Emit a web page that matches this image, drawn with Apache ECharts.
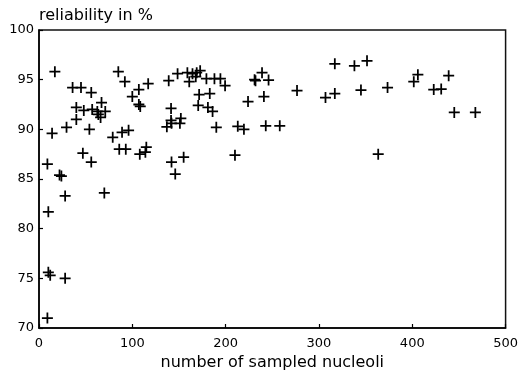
<!DOCTYPE html>
<html>
<head>
<meta charset="utf-8">
<script src="https://cdn.jsdelivr.net/npm/echarts@6/dist/echarts.min.js"></script>
<style>
html,body{margin:0;padding:0;background:#fff;}
#c{width:521px;height:379px;}
</style>
</head>
<body>
<div id="c"></div>
<script>
// number of sampled nucleoli
const sampledNucleoli = [9,10,12,28,10,28,70,9,14,17,22,24,29.5,36,45,40,40,48,56,57,54,47,56,62.5,67,66,71,63.6,79,85,92,89,96,86,93,100,107,107,108.5,117,108,114,115,139,148.5,141.5,137,141.5,142,152,151,142,146,155,159,161,164.5,169,172.7,168,179.4,171.6,170.6,183,181,186,190,188,194.4,199.4,210,213,219.6,224,231,232,239,246,241,243,258,276.5,307,317,317,338,351.5,345,363.5,373.5,401.6,406,423,431,439,445,467.6];
// reliability in %
const reliability = [71.0,75.6,75.3,75.0,81.7,83.3,83.6,86.5,89.6,95.8,85.4,85.3,90.2,94.2,94.2,91.0,92.2,91.9,93.7,92.0,90.0,87.6,86.7,91.8,92.7,91.2,91.8,91.5,89.2,95.8,94.8,89.7,89.9,88.0,88.0,93.3,94.0,92.5,92.3,94.6,87.5,87.7,88.2,94.9,95.6,92.1,90.25,90.9,90.6,91.1,90.6,86.7,85.5,87.2,95.7,94.8,95.6,95.7,95.9,95.3,95.1,93.5,92.4,93.6,92.2,91.8,90.2,95.1,95.1,94.4,87.4,90.3,90.0,92.8,95.0,94.9,95.7,94.96,93.3,90.35,90.35,93.9,93.2,93.6,96.6,96.4,96.9,93.95,87.5,94.2,94.8,95.5,94.0,94.05,95.4,91.7,91.7];
const xTicks = [0,100,200,300,400,500];
const yTicks = [70,75,80,85,90,95,100];

const points = sampledNucleoli.map((x,i)=>[x,reliability[i]]);
const font = 'DejaVu Sans';
const chart = echarts.init(document.getElementById('c'));
chart.setOption({
  animation:false,
  backgroundColor:'#fff',
  grid:{left:39,right:13,top:30,bottom:51,show:true,borderColor:'#111',borderWidth:1.5},
  xAxis:{
    type:'value',min:xTicks[0],max:xTicks[xTicks.length-1],interval:100,
    name:'number of sampled nucleoli',nameLocation:'middle',nameGap:27,
    nameTextStyle:{fontFamily:font,fontSize:16,color:'#000'},
    axisLine:{show:true,lineStyle:{color:'#000',width:1.5}},
    axisTick:{show:true,inside:true,length:4,lineStyle:{color:'#000',width:1.2}},
    axisLabel:{fontFamily:font,fontSize:13,color:'#000',margin:9},
    splitLine:{show:false}
  },
  yAxis:{
    type:'value',min:yTicks[0],max:yTicks[yTicks.length-1],interval:5,
    name:'reliability in %',nameLocation:'end',nameGap:5,
    nameTextStyle:{fontFamily:font,fontSize:16,color:'#000',align:'left',verticalAlign:'bottom'},
    axisLine:{show:true,lineStyle:{color:'#000',width:1.5}},
    axisTick:{show:true,inside:true,length:4,lineStyle:{color:'#000',width:1.2}},
    axisLabel:{fontFamily:font,fontSize:13,color:'#000',margin:5},
    splitLine:{show:false}
  },
  series:[{
    type:'scatter',
    data:points,
    symbol:'path://M0,4.2H10V5.8H0ZM4.2,0H5.8V10H4.2Z',
    symbolSize:11,
    itemStyle:{color:'#000',opacity:1}
  }]
});
</script>
</body>
</html>
